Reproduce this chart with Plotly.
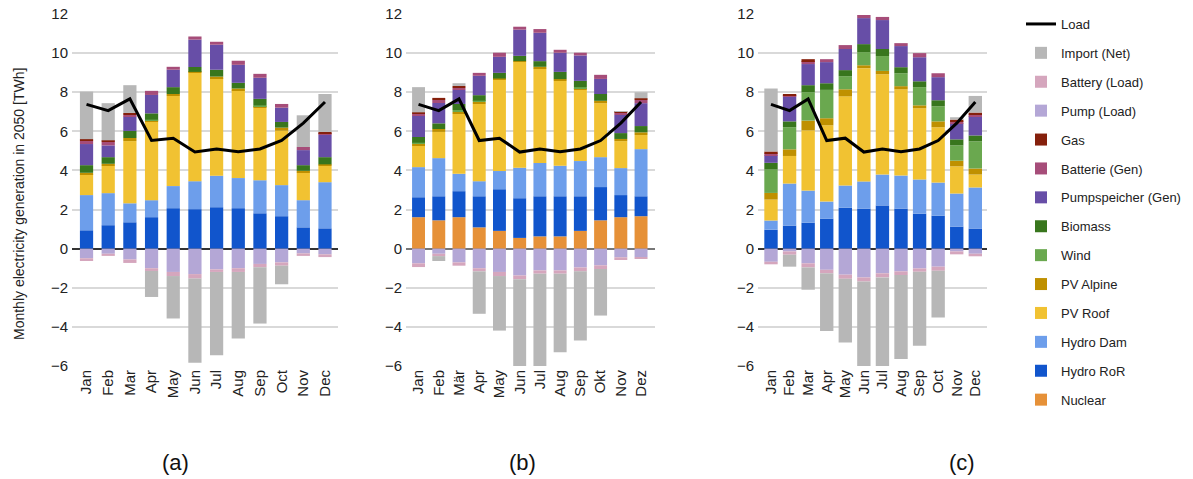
import plotly.graph_objects as go

months_en = ["Jan", "Feb", "Mar", "Apr", "May", "Jun", "Jul", "Aug", "Sep", "Oct", "Nov", "Dec"]
months_de = ["Jan", "Feb", "Mär", "Apr", "May", "Jun", "Jul", "Aug", "Sep", "Okt", "Nov", "Dez"]

load = [7.38, 7.06, 7.66, 5.53, 5.65, 4.94, 5.10, 4.96, 5.10, 5.53, 6.42, 7.50]

# ---------------- panel (a) ----------------
a_nuclear = [0, 0, 0, 0, 0, 0, 0, 0, 0, 0, 0, 0]
a_ror = [0.94, 1.20, 1.35, 1.61, 2.07, 2.02, 2.12, 2.07, 1.81, 1.66, 1.09, 1.04]
a_dam = [1.80, 1.64, 0.97, 0.87, 1.13, 1.43, 1.61, 1.54, 1.69, 1.59, 1.39, 2.36]
a_pvroof = [1.07, 1.40, 3.18, 4.00, 4.61, 5.56, 4.99, 4.49, 3.70, 2.78, 1.40, 0.84]
a_pvalp = [0.07, 0.10, 0.16, 0.07, 0.10, 0.03, 0.08, 0.09, 0.06, 0.16, 0.10, 0.07]
a_wind = [0, 0, 0, 0.05, 0, 0, 0, 0, 0.07, 0, 0, 0]
a_bio = [0.39, 0.34, 0.36, 0.32, 0.35, 0.25, 0.35, 0.29, 0.33, 0.29, 0.29, 0.37]
a_pumpgen = [1.08, 0.60, 0.73, 0.94, 0.89, 1.40, 1.28, 0.92, 1.08, 0.73, 0.77, 1.15]
a_battgen = [0.17, 0.19, 0.09, 0.21, 0.15, 0.16, 0.15, 0.21, 0.20, 0.19, 0.16, 0.05]
a_gas = [0.08, 0.07, 0.10, 0, 0, 0, 0, 0, 0, 0, 0, 0.09]
a_pumpload = [-0.49, -0.26, -0.55, -1.00, -1.19, -1.30, -1.06, -1.00, -0.78, -0.70, -0.24, -0.29]
a_battload = [-0.14, -0.11, -0.18, -0.14, -0.21, -0.23, -0.13, -0.19, -0.17, -0.17, -0.13, -0.14]
a_import = [2.43, 1.90, 1.42, -1.33, -2.17, -4.30, -4.26, -3.41, -2.88, -0.95, 1.62, 1.94]

# ---------------- panel (b) ----------------
b_nuclear = [1.61, 1.45, 1.61, 1.09, 0.91, 0.55, 0.63, 0.63, 0.91, 1.45, 1.61, 1.66]
b_ror = [1.02, 1.23, 1.33, 1.59, 2.13, 2.03, 2.05, 2.05, 1.77, 1.70, 1.13, 1.02]
b_dam = [1.54, 1.95, 0.89, 0.77, 0.93, 1.56, 1.70, 1.56, 1.80, 1.53, 1.38, 2.41]
b_pvroof = [1.08, 1.34, 3.06, 3.95, 4.66, 5.42, 4.82, 4.34, 3.64, 2.76, 1.38, 0.72]
b_pvalp = [0.13, 0.15, 0.10, 0.10, 0.07, 0.03, 0.10, 0.09, 0.09, 0.12, 0.11, 0.14]
b_wind = [0.04, 0, 0.10, 0.07, 0, 0, 0, 0, 0.05, 0, 0, 0]
b_bio = [0.29, 0.29, 0.31, 0.28, 0.29, 0.27, 0.29, 0.37, 0.32, 0.35, 0.30, 0.32]
b_pumpgen = [1.09, 1.04, 0.72, 0.99, 0.82, 1.34, 1.45, 0.98, 1.30, 0.77, 0.93, 1.17]
b_battgen = [0.09, 0.16, 0.10, 0.15, 0.21, 0.15, 0.19, 0.15, 0.14, 0.21, 0.10, 0.18]
b_gas = [0.08, 0.10, 0.10, 0, 0, 0, 0, 0, 0, 0, 0.05, 0.07]
b_pumpload = [-0.75, -0.26, -0.70, -1.00, -1.19, -1.37, -1.11, -1.11, -0.96, -0.85, -0.44, -0.43]
b_battload = [-0.19, -0.12, -0.17, -0.16, -0.21, -0.19, -0.17, -0.17, -0.20, -0.19, -0.14, -0.10]
b_import = [1.29, -0.25, 0.14, -2.17, -2.79, -4.90, -5.00, -4.02, -3.54, -2.38, 0.05, 0.31]

# ---------------- panel (c) ----------------
c_nuclear = [0, 0, 0, 0, 0, 0, 0, 0, 0, 0, 0, 0]
c_ror = [0.97, 1.18, 1.33, 1.54, 2.10, 2.05, 2.21, 2.05, 1.79, 1.69, 1.13, 1.03]
c_dam = [0.47, 2.15, 1.64, 0.87, 1.13, 1.39, 1.58, 1.69, 1.75, 1.69, 1.69, 2.10]
c_pvroof = [1.07, 1.41, 3.08, 3.90, 4.56, 5.79, 5.13, 4.41, 3.64, 2.83, 1.39, 0.66]
c_pvalp = [0.34, 0.34, 0.50, 0.36, 0.36, 0.15, 0.17, 0.16, 0.15, 0.30, 0.29, 0.31]
c_wind = [1.20, 1.13, 1.45, 1.45, 0.67, 0.67, 0.76, 0.66, 0.93, 0.77, 0.78, 1.39]
c_bio = [0.34, 0.30, 0.36, 0.34, 0.31, 0.41, 0.36, 0.31, 0.30, 0.31, 0.31, 0.30]
c_pumpgen = [0.38, 1.27, 1.08, 1.08, 1.08, 1.33, 1.48, 1.08, 1.23, 1.18, 0.82, 0.98]
c_battgen = [0.10, 0.03, 0.15, 0.15, 0.20, 0.16, 0.16, 0.15, 0.21, 0.20, 0.10, 0.10]
c_gas = [0.10, 0.09, 0.10, 0, 0, 0, 0, 0, 0, 0, 0.09, 0.09]
c_pumpload = [-0.67, -0.14, -0.75, -1.08, -1.33, -1.47, -1.26, -1.16, -1.01, -0.92, -0.14, -0.26]
c_battload = [-0.13, -0.17, -0.21, -0.18, -0.21, -0.21, -0.21, -0.19, -0.17, -0.21, -0.15, -0.13]
c_import = [3.22, -0.61, -1.14, -2.95, -3.26, -4.72, -4.83, -4.29, -3.79, -2.39, 0.12, 0.85]

series_names = ["Nuclear", "Hydro RoR", "Hydro Dam", "PV Roof", "PV Alpine", "Wind", "Biomass",
                "Pumpspeicher (Gen)", "Batterie (Gen)", "Gas", "Pump (Load)", "Battery (Load)",
                "Import (Net)"]
series_colors = ["#e69138", "#1155cc", "#6d9eeb", "#f1c232", "#bf9000", "#6aa84f", "#38761d",
                 "#674ea7", "#a64d79", "#85200c", "#b4a7d6", "#d5a6bd", "#b7b7b7"]

panel_a = [a_nuclear, a_ror, a_dam, a_pvroof, a_pvalp, a_wind, a_bio, a_pumpgen, a_battgen,
           a_gas, a_pumpload, a_battload, a_import]
panel_b = [b_nuclear, b_ror, b_dam, b_pvroof, b_pvalp, b_wind, b_bio, b_pumpgen, b_battgen,
           b_gas, b_pumpload, b_battload, b_import]
panel_c = [c_nuclear, c_ror, c_dam, c_pvroof, c_pvalp, c_wind, c_bio, c_pumpgen, c_battgen,
           c_gas, c_pumpload, c_battload, c_import]

FONT = "Liberation Sans, Arial, sans-serif"

panels = [
    (months_en, panel_a, 0.61, "x", "y"),
    (months_de, panel_b, 0.64, "x2", "y2"),
    (months_en, panel_c, 0.72, "x3", "y3"),
]

n_series = len(series_names)
fig = go.Figure()
for p, (months, values, bw, xa, ya) in enumerate(panels):
    for i, (name, color, vals) in enumerate(zip(series_names, series_colors, values)):
        fig.add_trace(go.Bar(
            x=months, y=vals, name=name, marker=dict(color=color, line=dict(width=0)),
            width=bw, xaxis=xa, yaxis=ya, legendgroup=name, showlegend=(p == 1),
            legendrank=100 + (n_series - i),
        ))
    fig.add_trace(go.Scatter(
        x=months, y=load, name="Load", mode="lines",
        line=dict(color="black", width=3), xaxis=xa, yaxis=ya,
        legendgroup="Load", showlegend=(p == 1), legendrank=1,
    ))

# body margin is removed by the post script, so figure pixels == window pixels
W, H = 1193, 479
PLOT_L, PLOT_R, PLOT_T, PLOT_B = 72, 987, 14, 366   # pixels of the plotting area
L = PLOT_L
T = PLOT_T
pw = PLOT_R - PLOT_L
ph = PLOT_B - PLOT_T
R = W - L - pw
B = H - T - ph


def px_x(px):
    return (px - PLOT_L) / pw


def px_y(py):
    return (PLOT_B - py) / ph


def dom(x0, x1):
    return [px_x(x0), px_x(x1)]


xcommon = dict(type="category", tickangle=-90, showgrid=False, showline=False, ticks="",
               automargin=False,
               tickfont=dict(size=15, color="#222", family=FONT))
ycommon = dict(range=[-6, 12], dtick=2, showgrid=True, gridcolor="#d9d9d9", gridwidth=1.5,
               zeroline=True, zerolinewidth=1.5, showline=False, ticks="", automargin=False,
               ticklabeloverflow="allow",
               tickfont=dict(size=15, color="#222", family=FONT), ticklabelstandoff=3)

fig.update_layout(
    width=W, height=H,
    margin=dict(l=L, r=R, t=T, b=B, autoexpand=False),
    paper_bgcolor="white", plot_bgcolor="white",
    barmode="relative",
    font=dict(family=FONT, color="#222"),
    xaxis=dict(domain=dom(72, 338), range=[-0.67, 11.6], anchor="y", **xcommon),
    xaxis2=dict(domain=dom(406, 655), range=[-0.62, 11.69], anchor="y2", **xcommon),
    xaxis3=dict(domain=dom(758, 987), range=[-0.7, 11.63], anchor="y3", **xcommon),
    yaxis=dict(anchor="x", zerolinecolor="#333", **ycommon),
    yaxis2=dict(anchor="x2", zerolinecolor="#777", **ycommon),
    yaxis3=dict(anchor="x3", zerolinecolor="#333", **ycommon),
    legend=dict(x=px_x(1021), y=px_y(9), xanchor="left", yanchor="top",
                traceorder="grouped", tracegroupgap=9, maxheight=470,
                font=dict(size=13, color="#222", family=FONT),
                bgcolor="rgba(0,0,0,0)"),
    annotations=[
        dict(text="Monthly electricity generation in 2050 [TWh]", xref="paper", yref="paper",
             x=px_x(19), y=px_y(204), textangle=-90, showarrow=False,
             xanchor="center", yanchor="middle", font=dict(size=14, color="#222", family=FONT)),
        dict(text="(a)", xref="paper", yref="paper", x=px_x(175), y=px_y(462),
             showarrow=False, xanchor="center", yanchor="middle", font=dict(size=22, color="#111")),
        dict(text="(b)", xref="paper", yref="paper", x=px_x(522), y=px_y(462),
             showarrow=False, xanchor="center", yanchor="middle", font=dict(size=22, color="#111")),
        dict(text="(c)", xref="paper", yref="paper", x=px_x(962), y=px_y(462),
             showarrow=False, xanchor="center", yanchor="middle", font=dict(size=22, color="#111")),
    ],
)

fig.write_html("out.html", config={"displayModeBar": False},
               post_script="document.body.style.margin='0';document.body.style.overflow='hidden';")
